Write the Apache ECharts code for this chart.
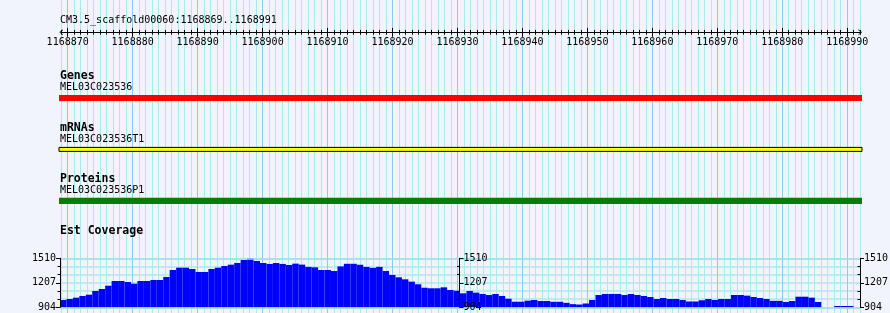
<!DOCTYPE html>
<html><head><meta charset="utf-8">
<script src="https://cdn.jsdelivr.net/npm/echarts@6/dist/echarts.min.js"></script>
<style>html,body{margin:0;padding:0;background:#f1f4fa}#c{width:890px;height:313px}</style>
</head><body><div id="c"></div>
<script>
// ---------- data ----------
const regionName = 'CM3.5_scaffold00060';
const viewStart = 1168869;
const viewEnd = 1168991;
const rulerTickLabels = [1168870,1168880,1168890,1168900,1168910,1168920,1168930,1168940,1168950,1168960,1168970,1168980,1168990];

const trackNames = ['Genes', 'mRNAs', 'Proteins'];
const featureNames = ['MEL03C023536', 'MEL03C023536T1', 'MEL03C023536P1'];
// features run past both edges of the view
const featureStart = [1168700, 1168700, 1168700];
const featureEnd = [1169200, 1169200, 1169200];

const coverageTitle = 'Est Coverage';
const covTickLabels = [904, 1207, 1510];
const covValues = [
 994,1007,1023,1044,1060,1106,1130,1171,1229,1229,
 1217,1196,1229,1229,1242,1242,1279,1365,1394,1394,
 1378,1341,1341,1378,1394,1415,1431,1452,1489,1510,
 1477,1452,1440,1452,1440,1427,1444,1432,1404,1398,
 1365,1365,1353,1410,1442,1442,1430,1404,1392,1404,
 1353,1304,1275,1250,1221,1189,1146,1139,1139,1151,
 1118,1109,1077,1106,1085,1069,1056,1069,1044,1010,
 973,973,986,994,982,982,972,972,959,943,
 938,951,994,1056,1069,1069,1069,1056,1069,1056,
 1044,1031,1007,1019,1007,1007,994,976,976,991,
 1007,994,1007,1007,1056,1056,1048,1031,1019,1007,
 984,984,970,982,1035,1035,1023,970,null,null,
 920,920,920,null
];

// ---------- derived ----------
const rulerPositions = [];
for (let p = viewStart; p <= viewEnd + 1; p++) rulerPositions.push(String(p));
const majorSet = new Set(rulerTickLabels.map(String));
const isMajor = (i, v) => majorSet.has(String(v));
const covBins = covValues.map((_, i) => String(i));
const covMin = covTickLabels[0], covMax = covTickLabels[covTickLabels.length - 1];
const covStep = covTickLabels[1] - covTickLabels[0];

// ---------- styles ----------
const BG = '#f1f4fa';
const MINOR = '#abe9ef';
const MAJOR = '#8ccbee';
const MONO = '"DejaVu Sans Mono", "Liberation Mono", monospace';
const trackStyles = [
  {h: 6, fill: '#ff0000', stroke: null, lw: 0},
  {h: 4, fill: '#ffff00', stroke: '#000000', lw: 1},
  {h: 6.3, fill: '#008000', stroke: null, lw: 0}
];

const chevron = 'path://M5,0 L10,6 L8.5,6 L5,1.8 L1.5,6 L0,6 Z';

function hidden(extra) {
  return Object.assign({axisLine:{show:false}, axisTick:{show:false}, axisLabel:{show:false}, splitLine:{show:false}}, extra);
}

const RL = 61.2, RW = 799; // ruler grid
const gridBase = {outerBoundsMode:'none', containLabel:false};
const grids = [
  Object.assign({left: RL, width: RW, top: 0, height: 313}, gridBase),          // 0 background grid lines
  Object.assign({left: RL, width: RW, top: 0, height: 32.3}, gridBase),         // 1 ruler
  Object.assign({left: 59, width: 803, top: 72.15, height: 154.5}, gridBase),   // 2 feature tracks
  Object.assign({left: 60, width: 800, top: 258.3, height: 49}, gridBase)       // 3 coverage
];

const xAxes = [
  // 0,1 background vertical lines
  hidden({gridIndex:0, type:'category', data: rulerPositions, boundaryGap:false,
    splitLine:{show:true, interval:0, lineStyle:{color:MINOR, width:1}}}),
  hidden({gridIndex:0, type:'category', data: rulerPositions, boundaryGap:false,
    splitLine:{show:true, interval:isMajor, lineStyle:{color:MAJOR, width:1}}}),
  // 2..5 ruler
  {gridIndex:1, type:'category', data: rulerPositions, boundaryGap:false, position:'bottom',
    axisLine:{show:true, symbol:[chevron, chevron], symbolSize:[6,5], lineStyle:{color:'#000', width:1}},
    axisTick:{show:true, interval:0, length:2.4, lineStyle:{color:'#000'}},
    axisLabel:{show:true, interval:isMajor, margin:5, color:'#000', fontFamily:MONO, fontSize:10},
    splitLine:{show:false}},
  hidden({gridIndex:1, type:'category', data: rulerPositions, boundaryGap:false, position:'bottom',
    axisTick:{show:true, inside:true, interval:0, length:2.4, lineStyle:{color:'#000'}}}),
  hidden({gridIndex:1, type:'category', data: rulerPositions, boundaryGap:false, position:'bottom',
    axisTick:{show:true, interval:isMajor, length:4.4, lineStyle:{color:'#000'}}}),
  hidden({gridIndex:1, type:'category', data: rulerPositions, boundaryGap:false, position:'bottom',
    axisTick:{show:true, inside:true, interval:isMajor, length:4.4, lineStyle:{color:'#000'}}}),
  // 6 tracks
  hidden({gridIndex:2, type:'value', min: viewStart - 0.34, max: viewEnd + 1.28}),
  // 7 coverage bins
  hidden({gridIndex:3, type:'category', data: covBins, boundaryGap:true})
];

const yCommon = {gridIndex:3, type:'value', min: covMin, max: covMax};
const yLabel = {show:true, margin:4, color:'#000', fontFamily:MONO, fontSize:10, formatter: v => String(v)};
const yAxes = [
  hidden({gridIndex:0, type:'value', min:0, max:1}),
  hidden({gridIndex:1, type:'value', min:0, max:1}),
  hidden({gridIndex:2, type:'category', data: trackNames, inverse:true, boundaryGap:true}),
  // 3 left coverage axis (carries the horizontal grid lines, drawn under bars)
  Object.assign({}, yCommon, {position:'left', interval: covStep,
    axisLine:{show:false}, axisTick:{show:false}, axisLabel:{show:false},
    splitLine:{show:true, lineStyle:{color:MINOR, width:1.5}},
    minorTick:{show:false, splitNumber:3},
    minorSplitLine:{show:true, lineStyle:{color:MINOR, width:1.5}}}),
  // 4 baseline drawn above the bars
  Object.assign({}, yCommon, {position:'left', interval: covMax - covMin, z: 5,
    axisLine:{show:false}, axisTick:{show:false}, axisLabel:{show:false},
    splitLine:{show:true, lineStyle:{color:'#9fdfee', width:1.5}}}),
  // 5 left axis with labels, above bars
  Object.assign({}, yCommon, {position:'left', interval: covStep, z: 6,
    axisLine:{show:true, lineStyle:{color:'#000', width:1}},
    axisTick:{show:true, length:4, lineStyle:{color:'#000'}},
    minorTick:{show:true, splitNumber:3, length:2.5, lineStyle:{color:'#000'}},
    axisLabel: yLabel, splitLine:{show:false}}),
  // 6,7 right axis
  Object.assign({}, yCommon, {position:'right', interval: covStep, z: 6,
    axisLine:{show:true, lineStyle:{color:'#000', width:1}},
    axisTick:{show:true, length:4, lineStyle:{color:'#000'}},
    axisLabel: yLabel, splitLine:{show:false}}),
  Object.assign({}, yCommon, {position:'right', interval: covStep, z: 6,
    axisLine:{show:false}, axisLabel:{show:false}, splitLine:{show:false},
    axisTick:{show:false, inside:true},
    minorTick:{show:true, splitNumber:3, length:2.5, lineStyle:{color:'#000'}}}),
  // 8,9 middle axis
  Object.assign({}, yCommon, {position:'right', offset: -400.5, interval: covStep, z: 6,
    axisLine:{show:true, lineStyle:{color:'#000', width:1}},
    axisTick:{show:true, length:4, lineStyle:{color:'#000'}},
    axisLabel: yLabel, splitLine:{show:false}}),
  Object.assign({}, yCommon, {position:'right', offset: -400.5, interval: covStep, z: 6,
    axisLine:{show:false}, axisLabel:{show:false}, splitLine:{show:false},
    axisTick:{show:false, inside:true},
    minorTick:{show:true, splitNumber:3, length:2.5, lineStyle:{color:'#000'}}})
];

function renderFeature(params, api) {
  const t = api.value(0);
  const s = api.coord([api.value(1), t]);
  const e = api.coord([api.value(2), t]);
  const st = trackStyles[t];
  const cs = params.coordSys;
  const r = echarts.graphic.clipRectByRect(
    {x: s[0], y: s[1] - st.h / 2, width: e[0] - s[0], height: st.h},
    {x: cs.x, y: cs.y, width: cs.width, height: cs.height});
  if (!r) return null;
  const style = {fill: st.fill};
  if (st.stroke) { style.stroke = st.stroke; style.lineWidth = st.lw; }
  return {type:'rect', shape: r, style: style};
}

const featureData = trackNames.map((n, i) => [i, featureStart[i], featureEnd[i]]);

// text labels
const txt = (x, y, text, bold) => ({type:'text', x:x, y:y, z:10, silent:true,
  style:{text:text, fill:'#000', font:(bold ? 'bold 11.5px ' : '10px ') + MONO,
    textAlign:'left', textVerticalAlign:'middle', align:'left', verticalAlign:'middle'}});
const trackCenters = [97.9, 149.4, 200.9];
const graphics = [txt(60, 20.5, regionName + ':' + viewStart + '..' + viewEnd, false)];
trackNames.forEach((n, i) => {
  graphics.push(txt(60, trackCenters[i] - 21.6, n, true));
  graphics.push(txt(60, trackCenters[i] - 10.2, featureNames[i], false));
});
graphics.push(txt(60, 231.3, coverageTitle, true));

const chart = echarts.init(document.getElementById('c'), null, {renderer:'canvas', width:890, height:313});
chart.setOption({
  backgroundColor: BG,
  animation: false,
  grid: grids,
  xAxis: xAxes,
  yAxis: yAxes,
  graphic: graphics,
  series: [
    {type:'custom', xAxisIndex:6, yAxisIndex:2, renderItem: renderFeature,
      encode:{x:[1,2], y:0}, data: featureData, z:3},
    {type:'bar', xAxisIndex:7, yAxisIndex:3, data: covValues, barCategoryGap:'0%', barGap:'0%',
      itemStyle:{color:'#0000ff'}, z:3}
  ]
});
</script></body></html>
